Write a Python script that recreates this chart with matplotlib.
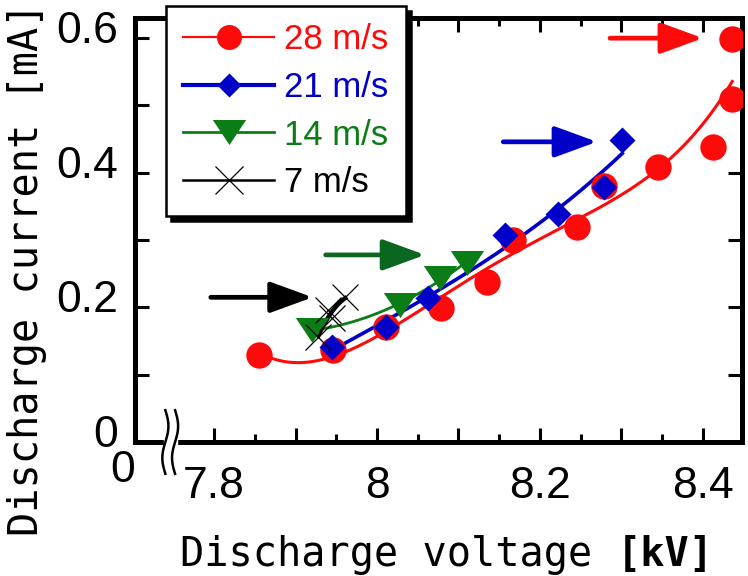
import matplotlib
matplotlib.use('Agg')
import matplotlib.pyplot as plt
import matplotlib.transforms as mtransforms
from matplotlib.lines import Line2D
from matplotlib.patches import Rectangle
from matplotlib.ticker import MultipleLocator, FuncFormatter
import numpy as np

# measured points, voltage [kV] / current [mA]
v28 = [7.855, 7.946, 8.011, 8.079, 8.135, 8.167, 8.245, 8.279, 8.345, 8.412, 8.436, 8.436]
i28 = [0.129, 0.137, 0.171, 0.199, 0.238, 0.300, 0.319, 0.380, 0.409, 0.438, 0.510, 0.599]
v21 = [7.945, 8.011, 8.063, 8.157, 8.222, 8.279, 8.301]
i21 = [0.141, 0.171, 0.214, 0.308, 0.339, 0.379, 0.449]
v14 = [7.920, 8.028, 8.077, 8.110]
i14 = [0.166, 0.204, 0.243, 0.266]
v7 = [7.928, 7.945, 7.940, 7.961]
i7 = [0.156, 0.184, 0.196, 0.215]

labels = ['28 m/s', '21 m/s', '14 m/s', '7 m/s']

# arrows pointing at the onset of each series
arrow_tail_v = [8.286, 8.155, 7.937, 7.796]
arrow_tip_v = [8.400, 8.270, 8.059, 7.921]
arrow_i = [0.600, 0.446, 0.278, 0.215]

red = '#ff0a0a'
blue = '#0000c8'
green = '#0a7d16'
dkgreen = '#0b6620'
black = 'black'

tick_font = 'Liberation Sans'
label_font = 'DejaVu Sans Mono'

fig = plt.figure(figsize=(7.48, 5.76), dpi=100)
ax = fig.add_axes([0.1805, 0.2326, 0.8115, 0.7362])
ax.set_xlim(7.703, 8.448)
ax.set_ylim(0, 0.63)


def fit_line(v, i, deg, color, lw):
    p = np.polyfit(v, i, deg)
    xs = np.linspace(min(v), max(v), 200)
    ax.plot(xs, np.polyval(p, xs), color=color, lw=lw, zorder=2)


fit_line(v28, i28, 4, red, 2.2)
fit_line(v21, i21, 3, blue, 2.6)
fit_line(v14, i14, 2, green, 2.0)
fit_line(v7, i7, 2, black, 3.2)

ax.plot(v28, i28, 'o', color=red, ms=19, mec='none', zorder=3)
ax.plot(v21, i21, 'D', color=blue, ms=13, mec='none', zorder=4)
tri = [(-1, 0.75), (1, 0.75), (0, -0.75)]
ax.plot(v14, i14, ls='none', marker=tri, color=green, ms=24, mec='none', zorder=5)
ax.plot(v7, i7, 'x', color=black, ms=19, mew=0.9, zorder=6)

for tail, tip, yv, c in zip(arrow_tail_v, arrow_tip_v, arrow_i, [red, blue, dkgreen, black]):
    ax.annotate('', xy=(tip, yv), xytext=(tail, yv),
                arrowprops=dict(arrowstyle='-|>,head_length=2.6,head_width=0.95',
                                mutation_scale=10, lw=3.4, color=c,
                                shrinkA=0, shrinkB=0))

# ticks
ax.xaxis.set_major_locator(MultipleLocator(0.1))
ax.xaxis.set_minor_locator(MultipleLocator(0.05))
ax.yaxis.set_major_locator(MultipleLocator(0.1))


def even_only(val, pos):
    n = int(round(val * 10))
    if n % 2:
        return ''
    return '%g' % (n / 10)


ax.xaxis.set_major_formatter(FuncFormatter(even_only))
ax.yaxis.set_major_formatter(FuncFormatter(even_only))
ax.tick_params(which='both', direction='in', top=True, right=True, width=2.2)
ax.tick_params(which='major', length=10)
ax.tick_params(which='minor', length=5.5)
ax.tick_params(axis='x', pad=17)
ax.tick_params(axis='y', pad=12)
for lab in ax.get_xticklabels() + ax.get_yticklabels():
    lab.set_fontfamily(tick_font)
    lab.set_fontsize(32)
shift = mtransforms.ScaledTranslation(0, 0.11, fig.dpi_scale_trans)
for t in ax.yaxis.get_major_ticks():
    t.label1.set_transform(t.label1.get_transform() + shift)

for s in ax.spines.values():
    s.set_linewidth(3.6)

# axis break on the bottom spine
ax.add_patch(Rectangle((0.047, -0.025), 0.022, 0.05, transform=ax.transAxes,
                       color='white', zorder=10, clip_on=False))
tt = np.linspace(-1, 1, 60)
for x0 in (0.050, 0.066):
    ax.plot(x0 + 0.005 * np.sin(np.pi * tt), 0.075 * tt, color='black', lw=1.8,
            transform=ax.transAxes, clip_on=False, zorder=11)
ax.text(-0.02, -0.068, '0', transform=ax.transAxes, ha='center', va='center',
        fontsize=32, fontfamily=tick_font)

# legend
handles = [
    Line2D([], [], color=red, lw=1.6, marker='o', ms=18, mec='none'),
    Line2D([], [], color=blue, lw=3.0, marker='D', ms=12, mec='none'),
    Line2D([], [], color=green, lw=2.0, marker=tri, ms=24, mec='none'),
    Line2D([], [], color=black, lw=1.8, marker='x', ms=20, mew=0.9),
]
leg = ax.legend(handles, labels, loc='upper left',
                bbox_to_anchor=(166 / 748, 1 - 6 / 576), bbox_transform=fig.transFigure,
                borderaxespad=0, prop={'family': tick_font, 'size': 25},
                handlelength=2.6, handletextpad=0.3, labelspacing=0.42,
                borderpad=0.5, fancybox=False, edgecolor='black', framealpha=1,
                shadow={'ox': 3.5, 'oy': -3.5, 'color': 'black', 'alpha': 1})
leg.get_frame().set_linewidth(1.8)
leg.set_zorder(20)
for txt, c in zip(leg.get_texts(), [red, blue, green, black]):
    txt.set_color(c)

# axis titles
fig.text(180 / 748, 1 - 566 / 576, 'Discharge voltage', ha='left', va='baseline',
         fontfamily=label_font, fontsize=29)
fig.text(617 / 748, 1 - 566 / 576, '[kV]', ha='left', va='baseline',
         fontfamily=label_font, fontsize=29, fontweight='bold')
fig.text(27 / 748, 1 - 269 / 576, 'Discharge current [mA]', rotation=90,
         ha='center', va='center', fontfamily=label_font, fontsize=29)

fig.savefig('out.png', dpi=100)
